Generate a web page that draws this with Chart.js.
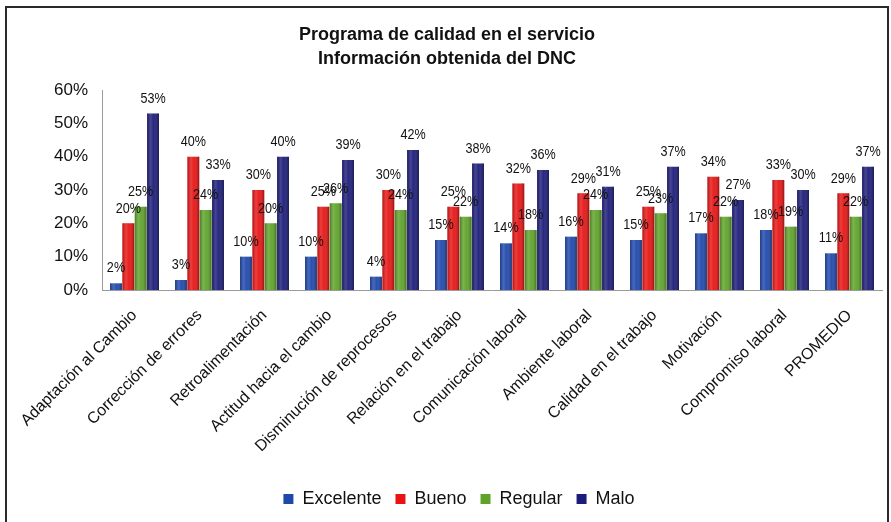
<!DOCTYPE html>
<html>
<head>
<meta charset="utf-8">
<script src="https://cdn.jsdelivr.net/npm/chart.js@4/dist/chart.umd.min.js"></script>
<style>
  html, body { margin: 0; padding: 0; background: #fff; }
  #wrap { position: relative; width: 891px; height: 522px; overflow: hidden; background: #fff; }
  #frame { position: absolute; left: 5px; top: 6px; right: 2px; bottom: -10px; border: 2px solid #2a2a2a; border-bottom: none; box-sizing: border-box; }
  canvas { position: absolute; left: 0; top: 0; }
</style>
</head>
<body>
<div id="wrap">
  <div id="frame"></div>
  <canvas id="c" width="891" height="522"></canvas>
</div>
<script>
const categories = [
  'Adaptación al Cambio', 'Corrección de errores', 'Retroalimentación',
  'Actitud hacia el cambio', 'Disminución de reprocesos', 'Relación en el trabajo',
  'Comunicación laboral', 'Ambiente laboral', 'Calidad en el trabajo',
  'Motivación', 'Compromiso laboral', 'PROMEDIO'
];
const excelente = [2, 3, 10, 10, 4, 15, 14, 16, 15, 17, 18, 11];
const bueno     = [20, 40, 30, 25, 30, 25, 32, 29, 25, 34, 33, 29];
const regular   = [25, 24, 20, 26, 24, 22, 18, 24, 23, 22, 19, 22];
const malo      = [53, 33, 40, 39, 42, 38, 36, 31, 37, 27, 30, 37];
const yTicks    = [0, 10, 20, 30, 40, 50, 60];

const seriesNames  = ['Excelente', 'Bueno', 'Regular', 'Malo'];
const seriesColors = ['#1f48ac', '#e81414', '#5ea32a', '#1c1c7a'];

// Nudge the legend a little to the right of the centre
const legendNudge = {
  id: 'legendNudge',
  afterLayout(chart) {
    if (chart.legend) {
      chart.legend.left += 12;
      chart.legend.right += 12;
    }
  }
};

// Cylinder-like shading laid over each bar
const shadePlugin = {
  id: 'shade',
  afterDatasetsDraw(chart) {
    const ctx = chart.ctx;
    chart.data.datasets.forEach((ds, di) => {
      chart.getDatasetMeta(di).data.forEach(bar => {
        const left = bar.x - bar.width / 2, right = bar.x + bar.width / 2;
        const top = bar.y, bottom = bar.base;
        const g = ctx.createLinearGradient(left, 0, right, 0);
        g.addColorStop(0, 'rgba(0,0,0,0.25)');
        g.addColorStop(0.3, 'rgba(255,255,255,0.18)');
        g.addColorStop(0.55, 'rgba(255,255,255,0.05)');
        g.addColorStop(1, 'rgba(0,0,0,0.35)');
        ctx.save();
        ctx.fillStyle = g;
        ctx.fillRect(left, top, right - left, bottom - top);
        ctx.restore();
      });
    });
  }
};

// Percentage labels above each bar (narrowed horizontally)
const valueLabels = {
  id: 'valueLabels',
  afterDatasetsDraw(chart) {
    const ctx = chart.ctx;
    chart.data.datasets.forEach((ds, di) => {
      chart.getDatasetMeta(di).data.forEach((bar, i) => {
        ctx.save();
        ctx.translate(bar.x, bar.y - 15);
        ctx.scale(0.84, 1);
        ctx.font = '15px "Liberation Sans", Arial, sans-serif';
        ctx.fillStyle = '#111';
        ctx.textAlign = 'center';
        ctx.textBaseline = 'middle';
        ctx.fillText(ds.data[i] + '%', 0, 0);
        ctx.restore();
      });
    });
  }
};

const allSeries = [excelente, bueno, regular, malo];

new Chart(document.getElementById('c'), {
  type: 'bar',
  data: {
    labels: categories,
    datasets: allSeries.map((d, i) => ({
      label: seriesNames[i],
      data: d,
      backgroundColor: seriesColors[i],
      borderWidth: 0,
      barPercentage: 0.96,
      categoryPercentage: 0.76
    }))
  },
  options: {
    responsive: false,
    animation: false,
    layout: { padding: { left: 12, right: 9, top: 0, bottom: 4 } },
    plugins: {
      title: {
        display: true,
        text: ['Programa de calidad en el servicio', 'Información obtenida del DNC'],
        color: '#111',
        font: { family: '"Liberation Sans", Arial, sans-serif', size: 18, weight: 'bold', lineHeight: 1.28 },
        padding: { top: 24, bottom: 20 }
      },
      legend: {
        position: 'bottom',
        labels: {
          color: '#111',
          boxWidth: 10,
          boxHeight: 10,
          padding: 14,
          font: { family: '"Liberation Sans", Arial, sans-serif', size: 18 }
        }
      },
      tooltip: { enabled: false }
    },
    scales: {
      x: {
        grid: { display: false, drawTicks: false },
        border: { color: '#9a9a9a', width: 1 },
        ticks: {
          color: '#111',
          maxRotation: 45,
          minRotation: 45,
          autoSkip: false,
          padding: 16,
          font: { family: '"Liberation Sans", Arial, sans-serif', size: 16 }
        },
        afterFit(scale) { scale.height = 186; }
      },
      y: {
        min: 0,
        max: 60,
        afterBuildTicks(scale) { scale.ticks = yTicks.map(v => ({ value: v })); },
        grid: { display: false, drawTicks: false },
        border: { color: '#9a9a9a', width: 1 },
        ticks: {
          color: '#111',
          padding: 14,
          callback: v => v + '%',
          font: { family: '"Liberation Sans", Arial, sans-serif', size: 17 }
        },
        afterFit(scale) { scale.width = 90; }
      }
    }
  },
  plugins: [legendNudge, shadePlugin, valueLabels]
});
</script>
</body>
</html>
